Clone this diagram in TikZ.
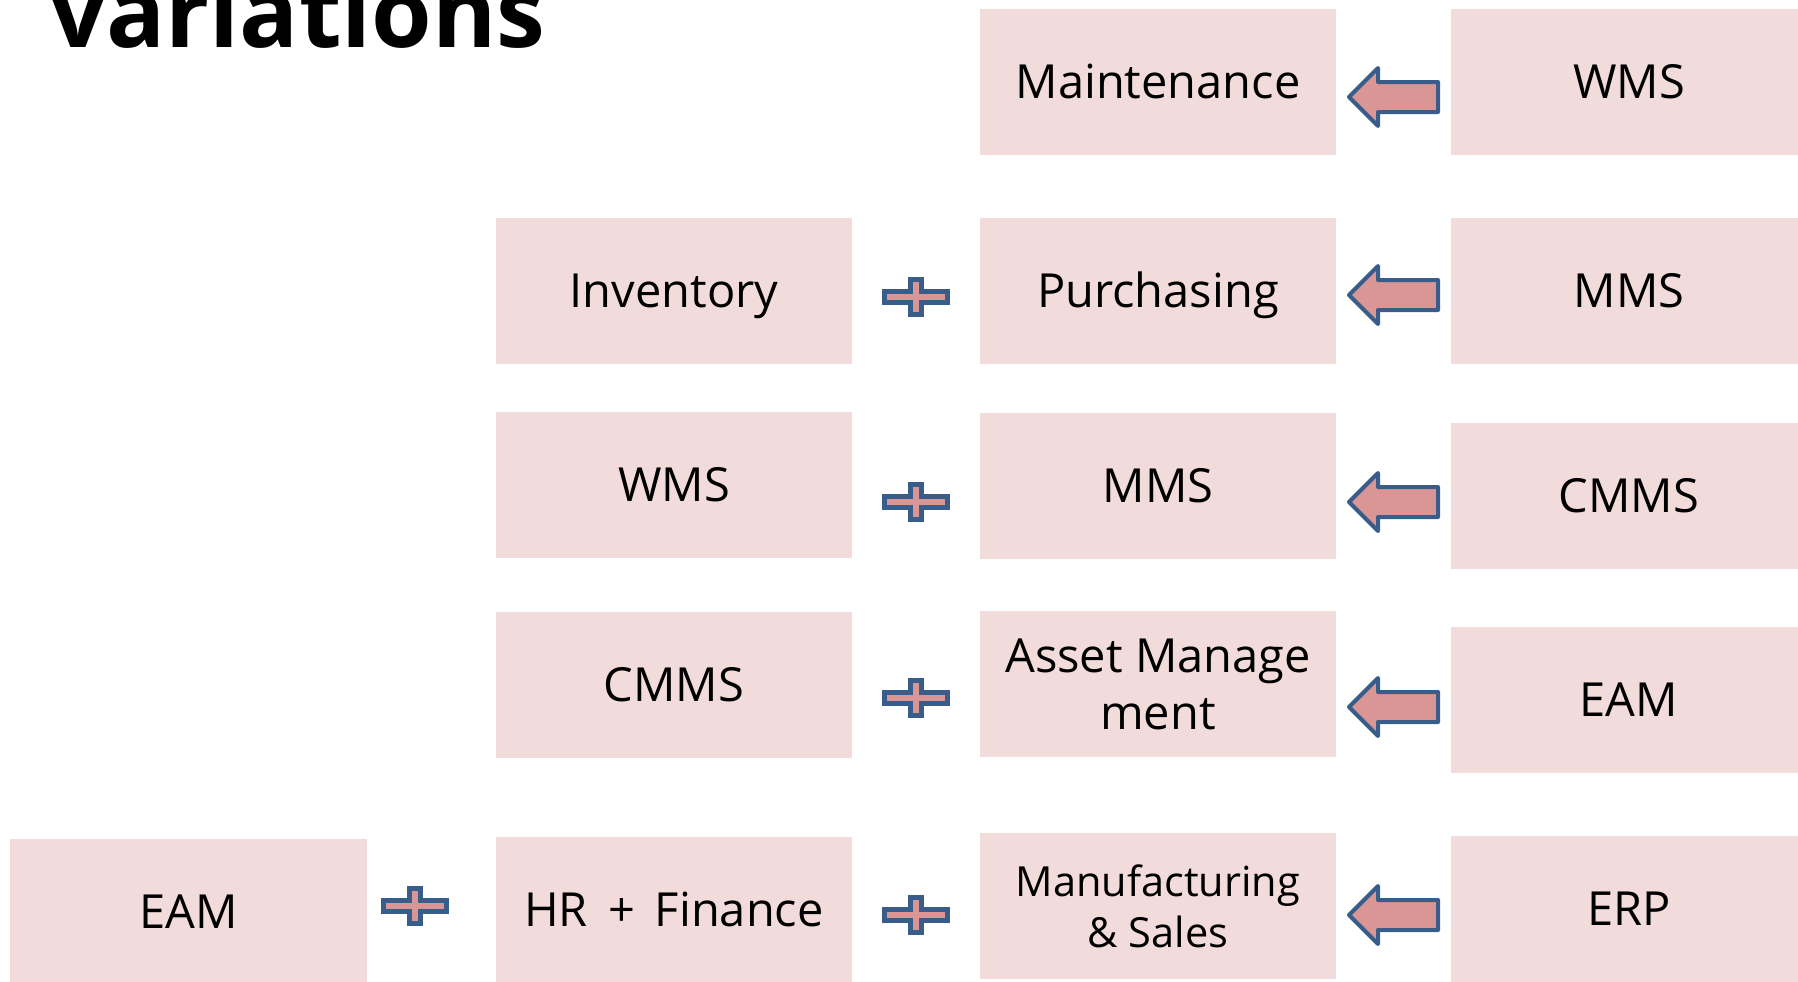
\documentclass[tikz,border=0pt]{standalone}
\usepackage{fontspec}
\setmainfont{Open Sans}
\definecolor{boxpink}{HTML}{F2DCDB}
\definecolor{arrowfill}{HTML}{D99694}
\definecolor{arrowline}{HTML}{385D8A}
\newcommand\leftblockarrow[2]{\draw[arrowsty] (#1,#2) -- ++(29,-29) -- ++(0,14) -- ++(60,0) -- ++(0,30) -- ++(-60,0) -- ++(0,14) -- cycle;}
\newcommand\plusmark[2]{\draw[plussty] (#1,#2) ++(-31.5,-5.5) -- ++(26,0) -- ++(0,-12) -- ++(11,0) -- ++(0,12) -- ++(26,0) -- ++(0,11) -- ++(-26,0) -- ++(0,12) -- ++(-11,0) -- ++(0,-12) -- ++(-26,0) -- cycle;}
\begin{document}
\begin{tikzpicture}[x=0.4pt,y=-0.4pt,
  mbox/.style={fill=boxpink, draw=none, minimum width=142.4pt, minimum height=58.4pt, inner sep=0pt, align=center, font=\fontsize{18.8}{22.8}\selectfont},
  box/.style={mbox, text height=13.4pt, text depth=0pt},
  smallbox/.style={mbox, font=\fontsize{16.6}{20.4}\selectfont},
  arrowsty/.style={fill=arrowfill, draw=arrowline, line width=1.6pt, line join=round},
  plussty/.style={fill=arrowfill, draw=arrowline, line width=2pt, line join=miter}]
\useasboundingbox (0,0) rectangle (1798,981);
\clip (0,0) rectangle (1798,981);
\node[anchor=base west, inner sep=0pt, font=\fontsize{39.2}{40}\selectfont\bfseries] (title) at (50,47) {variations};
% row 1
\node[box] (maint) at (1158,82) {Maintenance};
\node[box] (wms1) at (1629,82) {WMS};
% row 2
\node[box] (inv) at (674,291) {Inventory};
\node[box] (purch) at (1158,291) {Purchasing};
\node[box] (mms1) at (1629,291) {MMS};
% row 3
\node[box] (wms2) at (674,485) {WMS};
\node[box] (mms2) at (1158,486) {MMS};
\node[box] (cmms1) at (1629,496) {CMMS};
% row 4
\node[box] (cmms2) at (674,685) {CMMS};
\node[mbox] (asset) at (1158,684) {Asset Manage\\ment};
\node[box] (eam1) at (1629,700) {EAM};
% row 5
\node[box] (eam2) at (188.5,912) {EAM};
\node[box] (hrf) at (674,910) {HR\,\ +\ \,Finance};
\node[smallbox] (manuf) at (1158,906) {Manufacturing\\\& Sales};
\node[box] (erp) at (1629,909) {ERP};
% arrows
\leftblockarrow{1349}{97}
\leftblockarrow{1349}{295}
\leftblockarrow{1349}{502}
\leftblockarrow{1349}{707}
\leftblockarrow{1349}{915}
% plus signs
\plusmark{916}{297}
\plusmark{916}{502}
\plusmark{916}{698}
\plusmark{916}{915}
\plusmark{415}{906}
\end{tikzpicture}
\end{document}
